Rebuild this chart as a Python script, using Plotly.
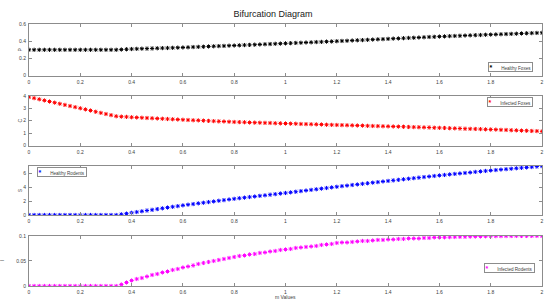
import numpy as np
import plotly.graph_objects as go

m_values = np.round(np.linspace(0, 2, 101), 2)

P_vals = [0.300] * 18 + [
    0.303, 0.306, 0.309,
    0.311, 0.313, 0.314, 0.316, 0.318, 0.320, 0.321, 0.323, 0.325, 0.327,
    0.329, 0.332, 0.334, 0.336, 0.339, 0.341, 0.343, 0.345, 0.348, 0.350,
    0.352, 0.355, 0.357, 0.360, 0.362, 0.365, 0.367, 0.370, 0.372, 0.375,
    0.377, 0.380, 0.382, 0.385, 0.387, 0.390, 0.392, 0.395, 0.397, 0.400,
    0.403, 0.405, 0.408, 0.411, 0.413, 0.416, 0.419, 0.422, 0.424, 0.427,
    0.430, 0.432, 0.435, 0.438, 0.440, 0.443, 0.446, 0.449, 0.451, 0.454,
    0.456, 0.459, 0.461, 0.463, 0.466, 0.468, 0.470, 0.472, 0.475, 0.477,
    0.479, 0.481, 0.483, 0.485, 0.487, 0.490, 0.492, 0.494, 0.496, 0.498]

C_vals = [
    3.90, 3.81, 3.72, 3.63, 3.54, 3.45, 3.36, 3.27, 3.18, 3.09,
    3.00, 2.91, 2.82, 2.72, 2.63, 2.54, 2.45, 2.36,
    2.33, 2.31, 2.28,
    2.26, 2.24, 2.22, 2.20, 2.18, 2.16, 2.14, 2.12, 2.10, 2.08,
    2.06, 2.04, 2.03, 2.01, 1.99, 1.97, 1.95, 1.94, 1.92, 1.90,
    1.89, 1.88, 1.86, 1.85, 1.84, 1.83, 1.82, 1.80, 1.79, 1.78,
    1.77, 1.76, 1.74, 1.73, 1.72, 1.71, 1.70, 1.68, 1.67, 1.66,
    1.65, 1.64, 1.63, 1.62, 1.61, 1.59, 1.58, 1.57, 1.56, 1.55,
    1.54, 1.53, 1.52, 1.50, 1.49, 1.48, 1.47, 1.46, 1.44, 1.43,
    1.42, 1.40, 1.39, 1.38, 1.36, 1.35, 1.34, 1.33, 1.31, 1.30,
    1.29, 1.27, 1.26, 1.24, 1.23, 1.21, 1.20, 1.18, 1.17, 1.15]

S_vals = [0.0] * 18 + [
    0.10, 0.20, 0.32,
    0.43, 0.54, 0.65, 0.75, 0.86, 0.97, 1.08, 1.19, 1.29, 1.40,
    1.50, 1.59, 1.69, 1.78, 1.88, 1.97, 2.07, 2.16, 2.26, 2.35,
    2.44, 2.52, 2.61, 2.69, 2.78, 2.86, 2.95, 3.03, 3.12, 3.20,
    3.29, 3.38, 3.47, 3.56, 3.65, 3.74, 3.83, 3.92, 4.01, 4.10,
    4.19, 4.27, 4.36, 4.44, 4.53, 4.61, 4.70, 4.78, 4.87, 4.95,
    5.03, 5.11, 5.19, 5.27, 5.35, 5.43, 5.51, 5.59, 5.67, 5.75,
    5.82, 5.90, 5.97, 6.04, 6.11, 6.18, 6.26, 6.33, 6.40, 6.47,
    6.53, 6.60, 6.66, 6.72, 6.79, 6.85, 6.91, 6.97, 7.04, 7.10]

I_vals = [0.0] * 18 + [
    0.003, 0.007, 0.011,
    0.014, 0.016, 0.019, 0.022, 0.024, 0.027, 0.029, 0.032, 0.034, 0.037,
    0.039, 0.041, 0.044, 0.046, 0.048, 0.050, 0.052, 0.054, 0.056, 0.058,
    0.060, 0.061, 0.063, 0.064, 0.066, 0.067, 0.069, 0.070, 0.072, 0.073,
    0.074, 0.076, 0.077, 0.078, 0.079, 0.080, 0.082, 0.083, 0.084, 0.086,
    0.087, 0.087, 0.088, 0.089, 0.090, 0.090, 0.091, 0.092, 0.092, 0.093,
    0.093, 0.094, 0.094, 0.095, 0.095, 0.095, 0.096, 0.096, 0.097, 0.097,
    0.0973, 0.0976, 0.0979, 0.0982, 0.0984, 0.0986, 0.0988, 0.0990, 0.0993, 0.0995,
    0.0996, 0.0997, 0.0998, 0.0999, 0.1000, 0.1000, 0.1000, 0.1000, 0.1000, 0.1000]

series_names = ["Healthy Foxes", "Infected Foxes", "Healthy Rodents", "Infected Rodents"]
series_labels = ["P", "C", "S", "I"]
series_colors = ["#000000", "#ff0000", "#0000ff", "#ff00ff"]
series_data = [P_vals, C_vals, S_vals, I_vals]
y_ranges = [[0, 0.6], [0, 4], [0, 7.12], [0, 0.1]]
y_ticks = [[0, 0.2, 0.4, 0.6], [0, 1, 2, 3, 4], [0, 2, 4, 6], [0, 0.05, 0.1]]
x_ticks = [0, 0.2, 0.4, 0.6, 0.8, 1, 1.2, 1.4, 1.6, 1.8, 2]

domains = [[0.803, 1.0], [0.5355, 0.726], [0.271, 0.458], [0.0, 0.191]]
legend_pos = [
    dict(x=0.982, y=0.816, xanchor="right", yanchor="bottom"),
    dict(x=0.982, y=0.722, xanchor="right", yanchor="top"),
    dict(x=0.015, y=0.454, xanchor="left", yanchor="top"),
    dict(x=0.986, y=0.049, xanchor="right", yanchor="bottom"),
]
ylabel_x = [-0.018, -0.018, -0.018, -0.052]

axis_color = "#8c8c8c"
text_color = "#404040"
font_family = "Liberation Sans, Arial, sans-serif"

fig = go.Figure()
layout = dict(
    width=546, height=300,
    margin=dict(l=29, r=4, t=24, b=14, autoexpand=False),
    paper_bgcolor="white", plot_bgcolor="white",
    font=dict(family=font_family, size=5, color=text_color),
    showlegend=False,
)
annotations = []
nb = "\u00a0"
for k in range(4):
    sfx = "" if k == 0 else str(k + 1)
    fig.add_trace(go.Scatter(
        x=m_values, y=series_data[k], mode="markers", name=series_names[k],
        xaxis="x" + sfx, yaxis="y" + sfx,
        marker=dict(symbol="asterisk-open", size=3.5, color=series_colors[k],
                    line=dict(color=series_colors[k], width=1)),
    ))
    layout["xaxis" + sfx] = dict(
        domain=[0, 1], anchor="y" + sfx, range=[0, 2], tickvals=x_ticks,
        ticktext=[("%g" % t) for t in x_ticks], automargin=False,
        showgrid=False, zeroline=False, showline=True, linecolor=axis_color,
        linewidth=1, mirror="ticks", ticks="inside", ticklen=3, tickcolor=axis_color,
        tickfont=dict(size=5, color=text_color), ticklabelstandoff=1,
    )
    layout["yaxis" + sfx] = dict(
        domain=domains[k], anchor="x" + sfx, range=y_ranges[k], tickvals=y_ticks[k],
        ticktext=[("%g" % t) for t in y_ticks[k]], automargin=False,
        showgrid=False, zeroline=False, showline=True, linecolor=axis_color,
        linewidth=1, mirror="ticks", ticks="inside", ticklen=3, tickcolor=axis_color,
        tickfont=dict(size=5, color=text_color), ticklabelstandoff=1,
    )
    # legend box (marker glyph + series name)
    annotations.append(dict(
        text=("<span style='color:%s;font-size:7px'><b>*</b></span>" % series_colors[k])
             + nb * 7 + series_names[k] + nb,
        xref="paper", yref="paper", showarrow=False, align="left",
        bgcolor="white", bordercolor=axis_color, borderwidth=1, borderpad=0.5,
        font=dict(size=4.6, color=text_color),
        **legend_pos[k],
    ))
    annotations.append(dict(
        text=series_labels[k], xref="paper", yref="paper",
        x=ylabel_x[k], y=sum(domains[k]) / 2, textangle=-90,
        showarrow=False, font=dict(size=5, color=text_color),
        xanchor="center", yanchor="middle",
    ))

annotations.append(dict(
    text="m Values", xref="paper", yref="paper", x=0.5, y=-0.043,
    showarrow=False, font=dict(size=5, color=text_color),
    xanchor="center", yanchor="middle",
))
layout["annotations"] = annotations
layout["title"] = dict(
    text="Bifurcation Diagram", x=0.5, xref="container", xanchor="center",
    y=1 - 14 / 300, yref="container", yanchor="middle",
    font=dict(size=9, color="#202020", family=font_family),
)
fig.update_layout(**layout)
fig.write_html(
    "out.html",
    config={"displayModeBar": False},
    post_script="document.body.style.margin='0';document.body.style.overflow='hidden';",
)
